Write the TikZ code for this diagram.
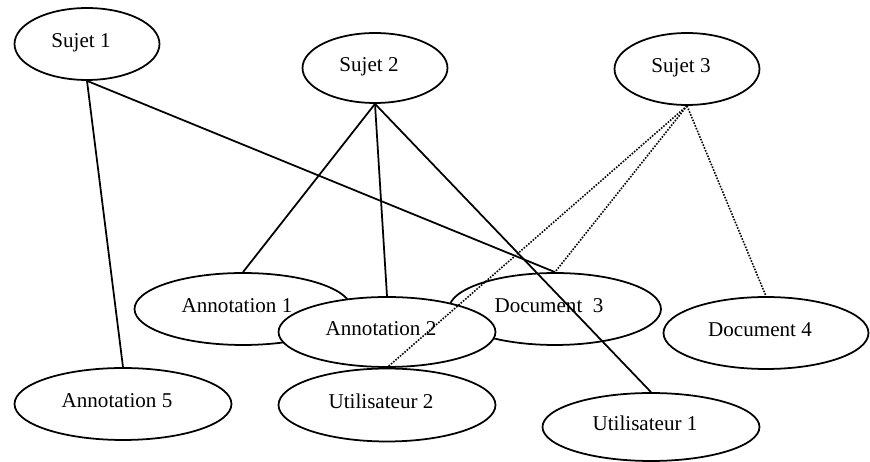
\documentclass[tikz,border=0pt]{standalone}
\usepackage{fontspec}
\setmainfont{Liberation Serif}
\usepackage{tikz}
\usetikzlibrary{shapes.geometric, positioning}
\tikzset{
  topic/.style={ellipse, draw=black, fill=white, inner sep=0pt,
    minimum width=2.9cm, minimum height=1.44cm,
    text height=0.28cm, text depth=0.12cm,
    execute at end node={\hspace*{0.24cm}},
    font=\fontsize{12pt}{14pt}\selectfont, line width=1pt},
  item/.style={topic, minimum width=4.34cm},
  link/.style={line width=1pt, color=black},
  dotlink/.style={line width=0.9pt, color=black, dash pattern=on 0.9pt off 0.8pt}
}
\begin{document}
\begin{tikzpicture}[x=0.02cm, y=-0.02cm]
  \useasboundingbox (0,0) rectangle (870,462);

  \node (sujet1) [topic] at (87,44) {Sujet 1};
  \node (sujet2) [topic, minimum height=1.4cm] at (375,68) {Sujet 2};
  \node (sujet3) [topic] at (687,69) {Sujet 3};

  \node (annot1) [item] at (243,309) {Annotation 1};
  \node (doc3) [item, minimum width=4.24cm] at (555,309) {Document\ \ 3};
  \node (annot2) [item, minimum height=1.4cm] at (387,332) {Annotation 2};
  \node (doc4) [item, minimum width=4.1cm] at (766,333) {Document 4};
  \node (annot5) [item] at (123,404) {Annotation 5};
  \node (user2) [item, minimum height=1.46cm] at (387,405) {Utilisateur 2};
  \node (user1) [item, minimum height=1.36cm] at (651,427) {Utilisateur 1};

  \draw [link] (sujet1.south) -- (annot5.north);
  \draw [link] (sujet1.south) -- (doc3.north);
  \draw [link] (sujet2.south) -- (annot1.north);
  \draw [link] (sujet2.south) -- (annot2.north);
  \draw [link] (sujet2.south) -- (user1.north);
  \draw [dotlink] (sujet3.south) -- (doc3.north);
  \draw [dotlink] (sujet3.south) -- (user2.north);
  \draw [dotlink] (sujet3.south) -- (doc4.north);
\end{tikzpicture}
\end{document}
